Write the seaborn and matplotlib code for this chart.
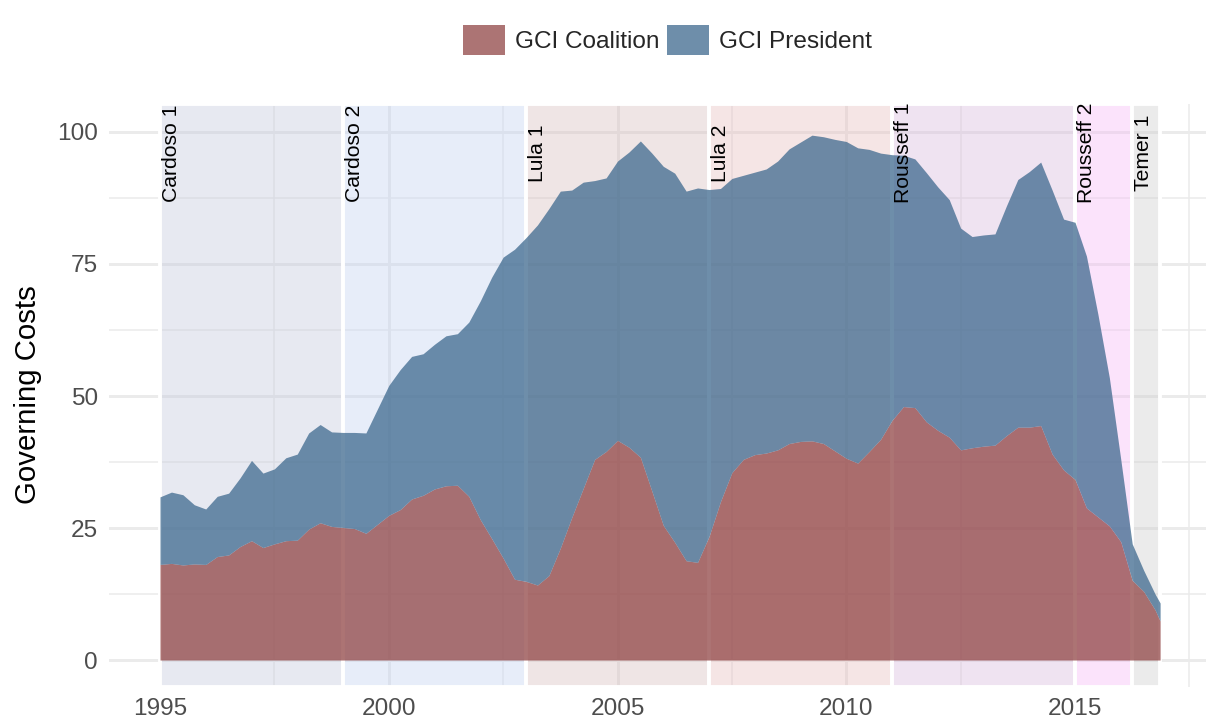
"""Governing costs in Brazil: coalition vs president, stacked areas over government terms."""

import matplotlib

matplotlib.use("Agg")
import matplotlib.pyplot as plt
import seaborn as sns
from matplotlib.patches import Patch
from matplotlib.ticker import MultipleLocator

# --- Data (quarterly) ---
years = [
    1995.00, 1995.25, 1995.50, 1995.75, 1996.00, 1996.25, 1996.50, 1996.75,
    1997.00, 1997.25, 1997.50, 1997.75, 1998.00, 1998.25, 1998.50, 1998.75,
    1999.00, 1999.25, 1999.50, 1999.75, 2000.00, 2000.25, 2000.50, 2000.75,
    2001.00, 2001.25, 2001.50, 2001.75, 2002.00, 2002.25, 2002.50, 2002.75,
    2003.00, 2003.25, 2003.50, 2003.75, 2004.00, 2004.25, 2004.50, 2004.75,
    2005.00, 2005.25, 2005.50, 2005.75, 2006.00, 2006.25, 2006.50, 2006.75,
    2007.00, 2007.25, 2007.50, 2007.75, 2008.00, 2008.25, 2008.50, 2008.75,
    2009.00, 2009.25, 2009.50, 2009.75, 2010.00, 2010.25, 2010.50, 2010.75,
    2011.00, 2011.25, 2011.50, 2011.75, 2012.00, 2012.25, 2012.50, 2012.75,
    2013.00, 2013.25, 2013.50, 2013.75, 2014.00, 2014.25, 2014.50, 2014.75,
    2015.00, 2015.25, 2015.50, 2015.75, 2016.00, 2016.25, 2016.50, 2016.75,
    2016.86,
]

# GCI Coalition (lower band)
gci_coalition = [
    18.1, 18.3, 18.0, 18.2, 18.1, 19.6, 19.9, 21.5,
    22.6, 21.3, 22.0, 22.6, 22.7, 24.8, 26.0, 25.3,
    25.1, 24.9, 24.0, 25.7, 27.4, 28.5, 30.5, 31.2,
    32.4, 33.0, 33.1, 31.0, 26.6, 23.0, 19.3, 15.3,
    14.9, 14.2, 16.0, 21.2, 27.0, 32.5, 38.0, 39.5,
    41.6, 40.3, 38.4, 32.0, 25.5, 22.3, 18.8, 18.5,
    23.4, 30.0, 35.5, 38.0, 38.9, 39.2, 39.8, 41.0,
    41.4, 41.5, 41.0, 39.6, 38.2, 37.3, 39.5, 41.8,
    45.4, 48.0, 47.8, 45.1, 43.5, 42.2, 39.8, 40.2,
    40.5, 40.7, 42.5, 44.1, 44.1, 44.4, 39.0, 36.0,
    34.2, 28.8, 27.1, 25.4, 22.4, 15.1, 13.0, 9.5,
    7.4,
]

# Top of the GCI President band (stacked on the coalition)
gci_total = [
    30.9, 31.8, 31.3, 29.4, 28.6, 31.0, 31.6, 34.5,
    37.8, 35.4, 36.2, 38.3, 39.0, 43.0, 44.6, 43.2,
    43.1, 43.1, 43.0, 47.5, 52.0, 55.0, 57.5, 58.0,
    59.8, 61.4, 61.8, 64.0, 68.0, 72.5, 76.3, 77.8,
    80.0, 82.4, 85.5, 88.8, 89.0, 90.5, 90.8, 91.3,
    94.5, 96.2, 98.3, 96.0, 93.5, 92.2, 88.8, 89.4,
    89.1, 89.3, 91.2, 91.8, 92.4, 93.0, 94.5, 96.8,
    98.1, 99.4, 99.1, 98.6, 98.2, 97.0, 96.7, 96.0,
    95.7, 95.6, 94.9, 92.3, 89.6, 87.2, 81.8, 80.2,
    80.5, 80.7, 86.0, 91.0, 92.5, 94.3, 89.0, 83.5,
    82.9, 76.5, 65.5, 53.5, 38.0, 22.0, 17.0, 12.5,
    10.8,
]

# Government terms
terms = ["Cardoso 1", "Cardoso 2", "Lula 1", "Lula 2", "Rousseff 1", "Rousseff 2", "Temer 1"]
term_start = [1995.0, 1999.0, 2003.0, 2007.0, 2011.0, 2015.0, 2016.24]
term_end = [1999.0, 2003.0, 2007.0, 2011.0, 2015.0, 2016.24, 2016.86]

# --- Styling ---
_TERM_COLORS = ["#c5cadc", "#c5d4f2", "#d7bebe", "#e6bec0", "#d9bbdc", "#f5bbf5", "#cdcdcd"]
_RED = "#914545"
_BLUE = "#3e698e"
_AREA_ALPHA = 0.75
_GRID = "#ebebeb"
_TICK = "#4d4d4d"

sns.set_theme(style="whitegrid")
plt.rcParams["font.family"] = ["Liberation Sans", "DejaVu Sans"]

fig = plt.figure(figsize=(6.03, 3.61), dpi=200)
ax = fig.add_axes([109 / 1206, 35 / 722, 1097 / 1206, 583 / 722])
ax.set_facecolor("white")
ax.set_axisbelow(True)

# --- Grid ---
ax.xaxis.set_major_locator(MultipleLocator(5))
ax.xaxis.set_minor_locator(MultipleLocator(2.5))
ax.yaxis.set_major_locator(MultipleLocator(25))
ax.yaxis.set_minor_locator(MultipleLocator(12.5))
ax.grid(which="major", color=_GRID, linewidth=1.07)
ax.grid(which="minor", color=_GRID, linewidth=0.55)
for side in ax.spines.values():
    side.set_visible(False)

# --- Government term bands ---
for name, x0, x1, col in zip(terms, term_start, term_end, _TERM_COLORS):
    ax.axvspan(
        x0, x1,
        facecolor=matplotlib.colors.to_rgba(col, 0.4),
        edgecolor="white",
        linewidth=1.4,
        zorder=1,
    )

# --- Stacked areas ---
ax.fill_between(years, 0, gci_coalition, color=_RED, alpha=_AREA_ALPHA, linewidth=0, zorder=2)
ax.fill_between(years, gci_coalition, gci_total, color=_BLUE, alpha=_AREA_ALPHA, linewidth=0, zorder=2)

# --- Term labels ---
for name, x0 in zip(terms, term_start):
    ax.text(
        x0 + 0.04, 96, name,
        rotation=90, ha="left", va="center",
        fontsize=7.6, color="black", zorder=3,
    )

ax.set_xlim(1993.885, 2017.863)
ax.set_ylim(-5.11, 105.3)
ax.tick_params(which="both", length=0, labelsize=8.8, labelcolor=_TICK, pad=4)
ax.set_xlabel("")
ax.set_ylabel("")

fig.text(28 / 1206, 0.453, "Governing Costs", rotation=90, ha="center", va="center",
         fontsize=10.6, color="black")

# --- Legend ---
handles = [
    Patch(facecolor=_RED, alpha=_AREA_ALPHA, edgecolor="none", label="GCI Coalition"),
    Patch(facecolor=_BLUE, alpha=_AREA_ALPHA, edgecolor="none", label="GCI President"),
]
fig.legend(
    handles=handles,
    loc="center",
    bbox_to_anchor=(0.5535, 1 - 40 / 722),
    ncol=2,
    frameon=False,
    fontsize=8.8,
    handlelength=1.72,
    handleheight=1.48,
    handletextpad=0.41,
    columnspacing=0.33,
    borderpad=0,
)

fig.savefig("out.png", dpi=200, facecolor="white")
